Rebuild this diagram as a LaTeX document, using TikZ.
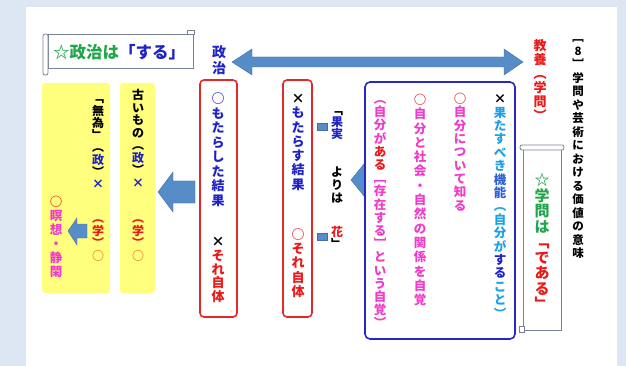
\documentclass[tikz,border=0pt]{standalone}
\usepackage{fontspec}
\setmainfont{Noto Sans CJK JP}
\ExplSyntaxOn
\cs_new_eq:NN \vtmap \tl_map_inline:nn
\ExplSyntaxOff
\newlength\vtp
\newcommand\vs[2]{\vtmap{#2}{\hbox to 1em{\hss\vrule height .86\vtp depth .14\vtp width 0pt\textcolor{#1}{##1}\hss}}}
\newcommand\vcol[2]{\vbox{\offinterlineskip\setlength\vtp{#1}#2}}
\definecolor{bgblue}{RGB}{220,231,243}
\definecolor{yel}{RGB}{255,255,125}
\definecolor{arr}{RGB}{86,140,200}
\definecolor{arredge}{RGB}{65,110,168}
\definecolor{grn}{RGB}{35,165,75}
\definecolor{blu}{RGB}{30,35,200}
\definecolor{blu2}{RGB}{45,95,215}
\definecolor{rd}{RGB}{235,25,25}
\definecolor{org}{RGB}{240,100,25}
\definecolor{mag}{RGB}{240,60,200}
\definecolor{cya}{RGB}{30,160,230}
\definecolor{scrl}{RGB}{120,130,150}
\definecolor{redline}{RGB}{228,40,40}
\definecolor{blueline}{RGB}{40,40,200}
\begin{document}
\begin{tikzpicture}[x=1pt,y=-1pt,
  vtext/.style={anchor=north,inner sep=0pt,font=\bfseries\fontsize{#1}{#1}\selectfont},
  scroll/.style={draw=scrl,line width=0.8pt,fill=white},
  blockarrow/.style={fill=arr,draw=arredge,line width=0.4pt},
  redbox/.style={draw=redline,line width=1.6pt,rounded corners=4pt},
  bluebox/.style={draw=blueline,line width=1.6pt,rounded corners=5pt,fill=white}]
\useasboundingbox (0,0) rectangle (626,366);
\fill[bgblue] (0,0) rectangle (626,366);
\fill[white] (26,7) rectangle (617,366);
% yellow columns
\fill[yel,rounded corners=3pt] (120,83) rectangle (155,293);
\fill[yel,rounded corners=3pt] (42,83) rectangle (110,293);
% horizontal scroll
\draw[scroll] (48,34) rectangle (193,68);
\draw[scroll,rounded corners=2pt] (43,34) rectangle (48,75);
\draw[scroll] (187,30) rectangle (194,34);
% vertical scroll
\draw[scroll] (523,149) rectangle (561,330);
\draw[scroll,rounded corners=2pt] (520,145) rectangle (564,150);
\draw[scroll] (519,326) rectangle (524,332);
% arrows
\coordinate (dl) at (232,62);
\coordinate (dr) at (523,62);
\fill[blockarrow] (dl) -- (252,49) -- (252,57) -- (504,57) -- (504,49) -- (dr) -- (504,75) -- (504,67) -- (252,67) -- (252,75) -- cycle;
\coordinate (bigtip) at (158,192);
\fill[blockarrow] (bigtip) -- (173,172) -- (173,181) -- (195,181) -- (195,203) -- (173,203) -- (173,212) -- cycle;
\coordinate (smalltip) at (68,231);
\fill[blockarrow] (smalltip) -- (77,218) -- (77,224) -- (87,224) -- (87,238) -- (77,238) -- (77,245) -- cycle;
\coordinate (boxtip) at (351,180);
\fill[blockarrow] (boxtip) -- (364,164) -- (364,172) -- (370,172) -- (370,188) -- (364,188) -- (364,196) -- cycle;
\fill[blockarrow] (317,123) rectangle (327,130);
\fill[blockarrow] (317,233) rectangle (327,240);
% boxes
\draw[redbox] (200,80) rectangle (237,317);
\draw[redbox] (283,80) rectangle (312,317);
\draw[bluebox] (365,82) rectangle (515,339);
% texts
\node[inner sep=0pt,font=\bfseries\fontsize{16.5}{16.5}\selectfont] (seijihead) at (119,52) {\textcolor{grn}{☆政治は}\textcolor{blu}{「する」}};
\node[vtext=11.5] (title) at (578,30) {\vcol{13.5pt}{\vs{black}{﹇8﹈学問や芸術における価値の意味}}};
\node[vtext=13] (kyoyo) at (540,38) {\vcol{14pt}{\vs{rd}{教養︵学問︶}}};
\node[vtext=14] (seiji) at (219,44) {\vcol{16pt}{\vs{blu}{政治}}};
\node[vtext=15] (gakumon) at (542,172) {\vcol{15.5pt}{\vs{grn}{☆学問は}\vs{rd}{﹁である﹂}}};
% blue box columns
\node[vtext=12.5] (ca) at (500,92) {\vcol{13.4pt}{\vs{black}{×}\vs{cya}{果たすべき}\vs{blu2}{機能}\vs{cya}{︵自分が}\vs{blu}{する}\vs{cya}{こと︶}}};
\node[vtext=12.5] (cb) at (460,92) {\vcol{13.3pt}{\vs{rd}{○}\vs{mag}{自分について知る}}};
\node[vtext=12.5] (cc) at (420,92) {\vcol{14.3pt}{\vs{rd}{○}\vs{mag}{自分と社会・自然の関係を自覚}}};
\node[vtext=12.5] (cd) at (380,92) {\vcol{13.2pt}{\vs{mag}{︵自分が}\vs{rd}{ある}\vs{mag}{﹇存在する﹈という自覚︶}}};
% red boxes
\node[vtext=13] (ra1) at (218,91) {\vcol{14.5pt}{\vs{blu}{○もたらした結果}}};
\node[vtext=13] (ra2) at (218,235) {\vcol{13.6pt}{\vs{black}{×}\vs{rd}{それ自体}}};
\node[vtext=13] (rb1) at (298,91) {\vcol{14.3pt}{\vs{black}{×}\vs{blu}{もたらす結果}}};
\node[vtext=13] (rb2) at (298,227) {\vcol{14.2pt}{\vs{rd}{○それ自体}}};
% fruit / flower
\node[vtext=12] (kajitsu) at (337,104) {\vcol{12pt}{\vs{black}{﹁}\vs{blu}{果実}}};
\node[vtext=12] (yoriwa) at (337,165) {\vcol{13pt}{\vs{black}{よりは}}};
\node[vtext=12] (hana) at (337,226) {\vcol{12pt}{\vs{rd}{花}\vs{black}{﹂}}};
% yellow columns
\node[vtext=12] (y1a) at (138,89) {\vcol{12.5pt}{\vs{black}{古いもの︵}\vs{blu}{政}\vs{black}{︶}\vs{blu}{×}}};
\node[vtext=12] (y1b) at (138,212) {\vcol{12.5pt}{\vs{rd}{︵学︶}\vs{org}{○}}};
\node[vtext=12] (y2a) at (98,92) {\vcol{12.3pt}{\vs{black}{﹁無為﹂︵}\vs{blu}{政}\vs{black}{︶}\vs{blu}{×}}};
\node[vtext=12] (y2b) at (98,212) {\vcol{12.5pt}{\vs{rd}{︵学︶}\vs{org}{○}}};
\node[vtext=12.5] (y2c) at (56,194) {\vcol{14pt}{\vs{rd}{○}\vs{mag}{瞑想・静閑}}};
\end{tikzpicture}
\end{document}
